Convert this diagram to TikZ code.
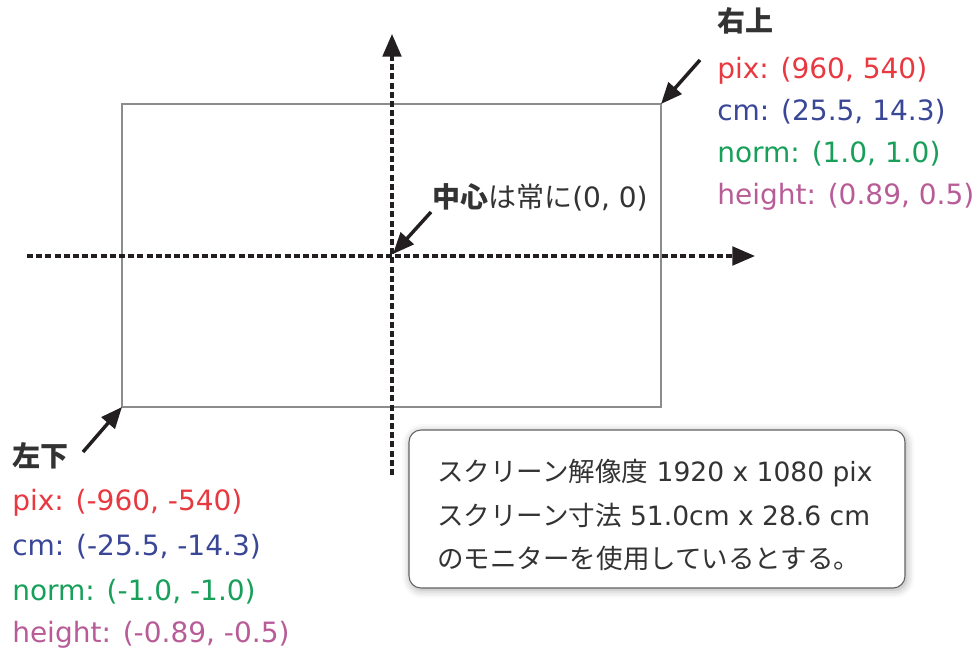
\documentclass[tikz,border=0pt]{standalone}
\usepackage{fontspec}
\setmainfont{DejaVu Sans}
\newfontfamily\jp{Noto Sans CJK JP}
\usetikzlibrary{arrows.meta,shadows.blur}
\definecolor{txt}{RGB}{51,51,51}
\definecolor{cpix}{RGB}{232,56,64}
\definecolor{ccm}{RGB}{58,70,150}
\definecolor{cnorm}{RGB}{24,160,90}
\definecolor{cheight}{RGB}{184,92,152}
\definecolor{ink}{RGB}{35,31,32}
\definecolor{framegray}{RGB}{140,140,140}
\begin{document}
\begin{tikzpicture}[x=0.75pt,y=-0.75pt,
  axis/.style={ink, line width=2.4pt, dash pattern=on 4.5pt off 2.4pt, -{Triangle[length=17pt,width=14pt]}},
  pointer/.style={ink, line width=2.6pt, -{Triangle[length=16pt,width=13pt]}},
  lbl/.style={anchor=base west, inner sep=0pt, font=\fontsize{21pt}{25pt}\selectfont},
  boxtxt/.style={anchor=base west, inner sep=0pt, text=txt, font=\fontsize{19.9pt}{23pt}\selectfont},
  notebox/.style={draw=ink!70, line width=0.8pt, fill=white, rounded corners=9pt,
    minimum width=372pt, minimum height=118.5pt, inner sep=0pt,
    blur shadow={shadow xshift=1pt, shadow yshift=-1.5pt, shadow blur radius=6pt, shadow opacity=35}}]
\useasboundingbox (0,0) rectangle (980,648);
% screen
\coordinate (tr) at (661,104);
\coordinate (bl) at (122,407);
\draw[framegray, line width=1.1pt] (bl) rectangle (tr);
% axes
\coordinate (xs) at (27,256);
\coordinate (xe) at (755,256);
\coordinate (ys) at (392,475);
\coordinate (ye) at (392,34);
\coordinate (c) at (393,254);
\draw[axis] (xs) -- (xe);
\draw[axis] (ys) -- (ye);
% note box
\node[notebox] (note) at (657,509) {};
\node[boxtxt] (n1) at (437,481) {{\jp スクリーン解像度} 1920 x 1080 pix};
\node[boxtxt] (n2) at (437,525) {{\jp スクリーン寸法} 51.0cm x 28.6 cm};
\node[boxtxt] (n3) at (437,568) {{\jp のモニターを使用しているとする。}};
% top right labels
\node[lbl, text=txt] (trh) at (717,32) {{\jp\bfseries 右上}};
\node[lbl, text=cpix] (tr1) at (717,79) {pix: (960, 540)};
\node[lbl, text=ccm] (tr2) at (717,121) {cm: (25.5, 14.3)};
\node[lbl, text=cnorm] (tr3) at (717,163) {norm: (1.0, 1.0)};
\node[lbl, text=cheight] (tr4) at (717,205) {height: (0.89, 0.5)};
% bottom left labels
\node[lbl, text=txt] (blh) at (12,466) {{\jp\bfseries 左下}};
\node[lbl, text=cpix] (bl1) at (12,510) {pix: (-960, -540)};
\node[lbl, text=ccm] (bl2) at (12,555) {cm: (-25.5, -14.3)};
\node[lbl, text=cnorm] (bl3) at (12,600) {norm: (-1.0, -1.0)};
\node[lbl, text=cheight] (bl4) at (12,642) {height: (-0.89, -0.5)};
% centre label
\node[lbl, text=txt] (cl) at (432,208) {{\jp\bfseries 中心}{\jp は常に}(0, 0)};
% pointers
\coordinate (ptr) at (700,60);
\coordinate (pc) at (431,212);
\coordinate (pbl) at (83,452);
\draw[pointer] (ptr) -- (tr);
\draw[pointer] (pc) -- (c);
\draw[pointer] (pbl) -- (bl);
\end{tikzpicture}
\end{document}
